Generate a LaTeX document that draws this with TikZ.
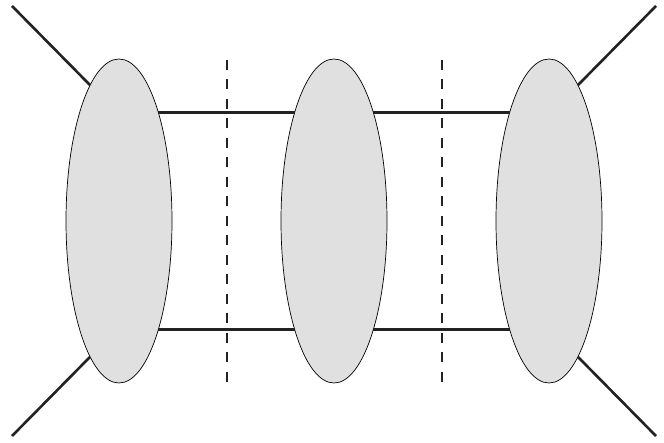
\documentclass[tikz,border=0pt]{standalone}
\usetikzlibrary{shapes.geometric}
\definecolor{blobfill}{HTML}{E0E0E0}
\definecolor{ink}{HTML}{222222}
\tikzset{
  blob/.style={ellipse, draw=black, line width=0.7pt, fill=blobfill, minimum width=106pt, minimum height=324pt, inner sep=0pt, outer sep=0pt},
  leg/.style={draw=ink, line width=2.6pt},
  cut/.style={draw=ink, line width=1.6pt, dash pattern=on 10pt off 9.5pt}
}
\begin{document}
\begin{tikzpicture}[x=1pt,y=-1pt]
\useasboundingbox (0,0) rectangle (664,443);
\coordinate (tl) at (12,6);
\coordinate (bl) at (12,436);
\coordinate (tr) at (656,6);
\coordinate (br) at (656,436);
\coordinate (c1t) at (227,60);
\coordinate (c1b) at (227,383);
\coordinate (c2t) at (442,60);
\coordinate (c2b) at (442,383);
\draw[cut] (c1t) -- (c1b);
\draw[cut] (c2t) -- (c2b);
\node[blob] (e1) at (119,221) {};
\node[blob] (e2) at (334,221) {};
\node[blob] (e3) at (549,221) {};
\draw[leg] (tl) -- (e1.102);
\draw[leg] (bl) -- (e1.258);
\draw[leg] (tr) -- (e3.78);
\draw[leg] (br) -- (e3.282);
\draw[leg] (e1.70) -- (e2.110);
\draw[leg] (e1.290) -- (e2.250);
\draw[leg] (e2.70) -- (e3.110);
\draw[leg] (e2.290) -- (e3.250);
\end{tikzpicture}
\end{document}
